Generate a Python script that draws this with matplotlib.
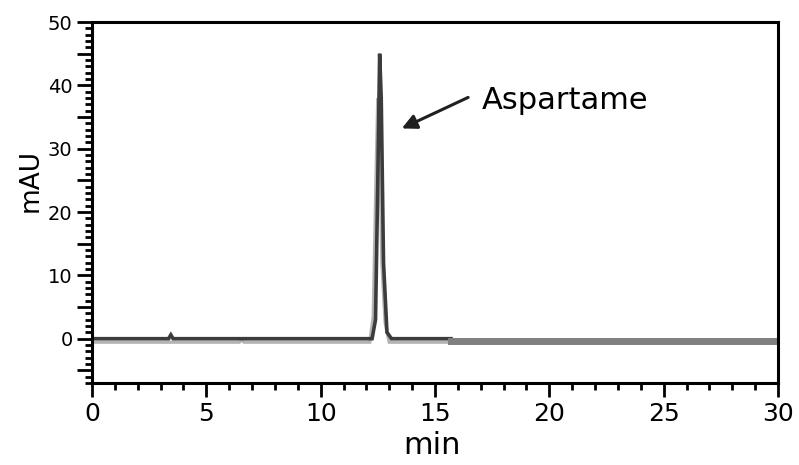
import matplotlib
matplotlib.use('Agg')
import matplotlib.pyplot as plt
from matplotlib.ticker import MultipleLocator, FuncFormatter

# chromatogram data (min, mAU)
dark_time = [0.0, 3.35, 3.45, 3.55, 12.25, 12.4, 12.5, 12.58, 12.65, 12.75, 12.9, 13.1, 15.7]
dark_signal = [0.0, 0.0, 0.6, 0.0, 0.0, 3.0, 25.0, 45.0, 38.0, 12.0, 1.0, 0.0, 0.0]

light_time = [0.0, 6.45, 6.55, 6.65, 12.15, 12.3, 12.42, 12.5, 12.58, 12.68, 12.82, 13.0, 15.7]
light_signal = [-0.55, -0.55, -0.2, -0.55, -0.55, 3.5, 25.0, 38.0, 30.0, 12.0, 2.5, -0.55, -0.55]

tail_time = [15.7, 30.0]
tail_signal = [-0.3, -0.3]

peak_label = 'Aspartame'
peak_tip = (13.55, 33.2)
label_pos = (17.05, 37.6)
arrow_tail = (16.45, 38.1)

fig = plt.figure(figsize=(7.99, 4.65), dpi=100)
ax = fig.add_axes([0.1151, 0.1763, 0.8586, 0.7763])

ax.plot(light_time, light_signal, color='#b4b4b4', lw=2.4, solid_joinstyle='miter')
ax.plot(dark_time, dark_signal, color='#3c3c3c', lw=2.6, solid_joinstyle='miter')
ax.plot(tail_time, tail_signal, color='#808080', lw=5.0)

ax.annotate('', xy=peak_tip, xytext=arrow_tail,
            arrowprops=dict(arrowstyle='-|>', color='#202020', lw=2.2,
                            mutation_scale=22, shrinkA=0, shrinkB=0))
ax.text(label_pos[0], label_pos[1], peak_label, fontsize=22, va='center', ha='left')

ax.set_xlim(0, 30)
ax.set_ylim(-7, 50)
ax.xaxis.set_major_locator(MultipleLocator(5))
ax.xaxis.set_minor_locator(MultipleLocator(1))
ax.yaxis.set_major_locator(MultipleLocator(5))
ax.yaxis.set_minor_locator(MultipleLocator(1))
# label only every 10 mAU
ax.yaxis.set_major_formatter(FuncFormatter(lambda v, p: '%d' % v if round(v) % 10 == 0 else ''))

ax.tick_params(axis='x', which='major', direction='out', length=10, width=2, labelsize=18, pad=4)
ax.tick_params(axis='x', which='minor', direction='out', length=5, width=2)
ax.tick_params(axis='y', which='major', direction='out', length=11, width=2, labelsize=14, pad=3)
ax.tick_params(axis='y', which='minor', direction='out', length=5, width=2)
ax.tick_params(top=False, right=False)

for s in ax.spines.values():
    s.set_linewidth(2.2)

ax.set_xlabel('min', fontsize=22, va='center')
ax.xaxis.set_label_coords(0.496, -0.172)
ax.set_ylabel('mAU', fontsize=19, va='center')
ax.yaxis.set_label_coords(-0.09, 0.56)

fig.savefig('out.png', dpi=100)
